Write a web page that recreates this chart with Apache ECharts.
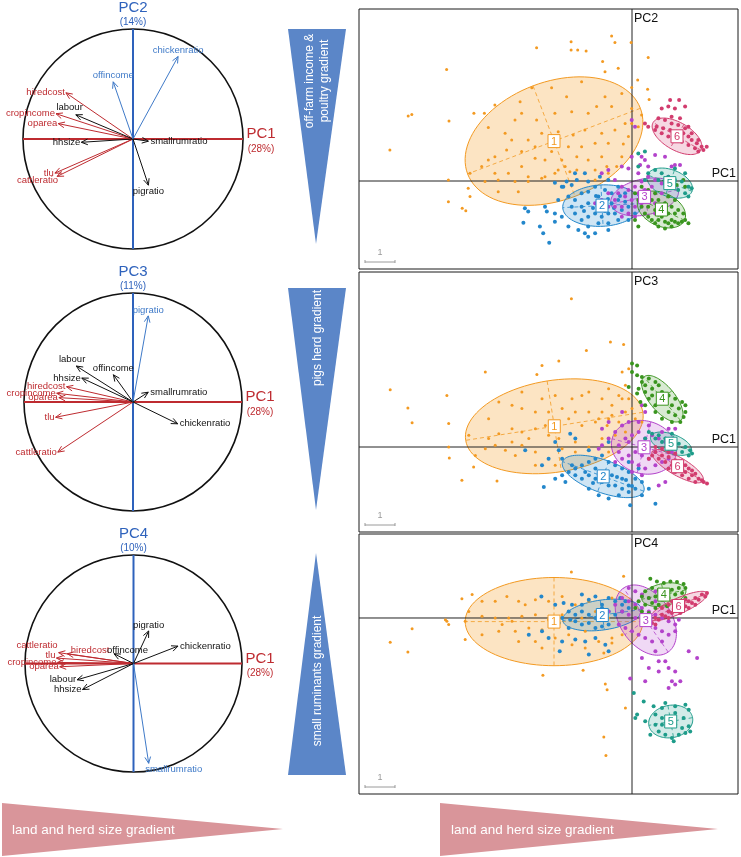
<!DOCTYPE html>
<html><head><meta charset="utf-8">
<script src="https://cdn.jsdelivr.net/npm/echarts@6/dist/echarts.min.js"></script>
<style>html,body{margin:0;padding:0;background:#fff}#c{width:741px;height:857px}</style>
</head><body><div id="c"></div>
<script>
// ---------------- DATA ----------------
const variables = ['hiredcost','cropincome','oparea','tlu','cattleratio','labour','hhsize','offincome','chickenratio','pigratio','smallrumratio'];
const loadPC1 = [-0.61,-0.70,-0.68,-0.71,-0.69,-0.52,-0.47,-0.18,0.41,0.14,0.14];
const loadPC2 = [0.42,0.23,0.14,-0.31,-0.34,0.22,-0.03,0.52,0.75,-0.42,-0.02];
const loadPC3 = [0.14,0.08,0.04,-0.14,-0.46,0.33,0.22,0.25,-0.20,0.79,0.09];
const loadPC4 = [0.09,0.01,-0.03,0.05,0.10,-0.15,-0.24,0.09,0.16,0.30,-0.92];
const pc1Name = 'PC1', pc1Variance = '(28%)';
const pcNames = ['PC2','PC3','PC4'];
const pcVariance = ['(14%)','(11%)','(10%)'];
const pc1Vars = ['hiredcost','cropincome','oparea','tlu','cattleratio'];
const pcKVars = [['offincome','chickenratio'],['pigratio'],['smallrumratio']];
const clusterLabels = ['1','2','3','4','5','6'];
const gradientTexts = ['off-farm income &\npoultry gradient','pigs herd gradient','small ruminants gradient'];
const bottomText = 'land and herd size gradient';

// scores PC1 x PC2
const pc2_cl1 = [[-0.68,4.83],[-0.57,4.62],[-2.03,4.64],[-2.03,4.37],[-1.81,4.37],[-1.53,4.33],[-3.18,4.44],[-0.03,4.62],[0.54,4.12],[-0.98,3.98],[-0.46,3.76],[-0.90,3.64],[-6.18,3.72],[0.19,3.37],[-0.01,3.12],[0.52,3.06],[0.57,2.72],[-7.46,2.17],[-7.34,2.22],[-8.07,1.03],[-6.10,2.00],[-5.27,2.26],[-4.92,2.26],[-4.57,2.53],[-3.73,2.64],[-3.34,3.11],[-2.68,3.11],[-2.18,2.81],[-1.68,3.31],[-0.90,2.81],[-0.34,2.92],[-0.01,2.42],[-0.68,2.48],[-1.18,2.48],[-1.46,2.26],[-2.01,2.31],[-2.57,2.26],[-3.18,2.03],[-3.68,2.26],[-3.90,2.03],[-4.79,1.78],[-4.23,1.59],[-4.01,1.37],[-3.46,1.37],[-3.01,1.59],[-2.46,1.64],[-1.96,1.53],[-1.57,1.70],[-1.01,1.59],[-0.57,1.70],[-0.23,1.92],[-0.12,1.48],[-0.79,1.26],[-1.23,1.26],[-1.68,1.14],[-2.12,1.14],[-2.68,0.98],[-3.23,1.14],[-3.68,0.98],[-4.18,1.03],[-4.57,0.81],[-4.79,0.70],[-5.01,0.48],[-4.57,0.26],[-4.12,0.26],[-3.68,0.48],[-3.23,0.76],[-2.90,0.70],[-2.34,0.70],[-1.84,0.81],[-1.46,0.70],[-1.01,0.81],[-0.34,0.81],[-0.51,0.48],[-0.79,0.26],[-1.23,0.37],[-1.84,0.37],[-2.23,0.48],[-2.57,0.26],[-3.01,0.09],[-3.46,-0.02],[-3.90,-0.02],[-4.46,0.03],[-4.90,-0.02],[-5.40,0.26],[-5.46,-0.24],[-5.40,-0.52],[-6.12,0.03],[-6.12,-0.69],[-5.66,-0.91],[-5.54,-0.99],[-4.46,-0.36],[-3.79,-0.36],[-3.46,0.14],[-2.90,0.14],[-2.46,0.37],[-2.07,0.31],[-1.23,0.03],[-0.84,0.48],[-0.29,1.23],[-0.01,1.92],[0.21,1.81],[0.32,2.20]];
const pc2_cl2 = [[-2.76,-2.06],[-3.07,-1.52],[-2.96,-1.74],[-3.62,-1.39],[-3.57,-0.91],[-3.46,-1.02],[-2.90,-0.86],[-2.84,-1.02],[-2.57,-0.06],[-2.34,-0.19],[-2.18,-0.02],[-1.90,0.26],[-1.84,0.03],[-1.57,0.26],[-1.46,-0.02],[-2.12,-0.52],[-1.90,-0.63],[-1.68,-0.41],[-1.46,-0.36],[-1.23,-0.19],[-1.12,-0.52],[-0.90,-0.30],[-0.68,-0.41],[-0.46,-0.19],[-0.23,-0.41],[-1.90,-1.08],[-1.68,-1.30],[-1.46,-1.19],[-1.23,-1.08],[-1.01,-1.19],[-0.79,-1.08],[-0.57,-1.08],[-0.34,-0.97],[-0.12,-0.86],[-2.12,-1.52],[-1.79,-1.63],[-1.57,-1.74],[-1.46,-1.52],[-1.12,-1.41],[-0.79,-1.41],[-0.46,-1.30],[-0.12,-1.30],[-1.23,-1.74],[-0.79,-1.63],[-2.34,-1.19],[-2.57,-1.08],[-2.46,-0.63],[-2.01,-0.86],[-1.68,-0.86],[-1.46,-0.74],[-0.68,-0.74],[-0.46,-0.63],[-0.23,-0.69],[0.10,-1.08],[-1.46,-1.86],[-2.29,-0.19],[-2.01,-0.13],[-1.07,0.14],[-0.79,0.03],[-2.57,-1.36],[-1.0,-0.8],[-0.8,-0.6],[-1.2,-0.5],[-0.6,-0.9],[-1.3,-0.9],[-0.9,-1.0],[-1.6,-1.0],[-0.4,-0.5]];
const pc2_cl3 = [[0.77,0.87],[1.10,0.81],[1.43,0.53],[1.32,0.48],[1.60,0.53],[0.27,0.53],[0.54,0.48],[-0.12,0.42],[-0.34,0.48],[-0.79,0.37],[-1.01,0.26],[-0.57,0.03],[-0.34,-0.19],[-0.12,-0.30],[0.10,-0.19],[0.32,-0.02],[0.54,0.14],[0.77,0.03],[0.99,-0.08],[1.21,0.14],[-0.79,-0.41],[-0.57,-0.63],[-0.34,-0.86],[-0.12,-1.08],[-0.34,-1.19],[0.10,-0.86],[0.32,-0.74],[0.54,-0.63],[0.77,-0.74],[0.99,-0.41],[0.21,-0.41],[0.43,-0.30],[0.66,-0.19],[-0.57,-0.86],[-0.79,-0.86],[-1.01,-0.63],[-1.23,-0.74],[-0.01,-0.63],[-0.23,-0.52],[-0.46,-0.41],[0.10,-1.19],[0.77,-1.08],[0.21,0.26],[-0.01,0.81],[0.32,0.81],[0.43,0.70],[-0.01,2.03],[0.10,1.81]];
const pc2_cl4 = [[0.21,-0.63],[0.32,-0.86],[0.43,-1.08],[0.54,-1.19],[0.66,-1.30],[0.77,-1.41],[0.88,-1.30],[0.99,-1.19],[1.10,-1.36],[1.21,-1.41],[1.32,-1.30],[1.43,-1.36],[1.54,-1.41],[1.66,-1.36],[1.77,-1.30],[1.43,-1.08],[1.21,-1.08],[0.99,-0.97],[0.77,-0.97],[0.54,-0.86],[0.43,-0.63],[0.66,-0.63],[0.88,-0.63],[1.10,-0.74],[1.32,-0.86],[1.54,-0.97],[1.71,-1.08],[0.10,-0.41],[0.32,-0.19],[0.54,-0.30],[0.77,-0.41],[1.21,-0.52],[1.43,-0.63],[0.88,-1.52],[1.10,-1.58],[1.32,-1.52],[0.10,-1.30],[0.21,-1.52],[1.49,-0.13],[1.71,0.03],[1.77,-0.19],[1.88,-1.41]];
const pc2_cl5 = [[0.21,0.92],[0.43,0.98],[0.54,0.26],[0.77,0.37],[0.99,0.26],[1.21,0.14],[1.43,0.03],[1.66,-0.02],[1.88,-0.19],[1.77,-0.41],[1.54,-0.30],[1.32,-0.19],[1.10,-0.08],[0.88,0.03],[1.77,0.26],[1.88,-0.52],[1.43,0.42],[1.99,-0.24],[0.21,0.48],[0.43,0.03]];
const pc2_cl6 = [[1.27,2.70],[1.57,2.70],[0.99,2.42],[1.21,2.48],[1.43,2.42],[1.77,2.48],[0.88,2.09],[1.10,2.03],[1.32,1.92],[1.54,1.87],[1.77,1.76],[0.82,1.81],[1.04,1.76],[1.27,1.70],[1.49,1.64],[1.71,1.59],[1.88,1.48],[1.99,1.37],[2.16,1.26],[2.32,1.14],[2.49,1.14],[2.38,1.03],[2.10,1.09],[1.88,1.20],[1.66,1.31],[1.43,1.37],[1.21,1.48],[0.99,1.59],[0.77,1.70],[1.99,1.59],[2.21,1.37],[0.54,1.81],[0.43,1.92],[1.88,1.81],[2.21,0.98],[1.32,2.14],[1.60,2.09]];

// scores PC1 x PC3
const pc3_cl1 = [[-2.02,4.94],[-0.72,3.50],[-0.28,3.42],[-1.52,3.22],[-2.44,2.87],[-3.17,2.42],[-4.89,2.50],[-8.06,1.91],[-7.47,1.30],[-7.33,0.81],[-6.17,1.72],[-6.11,0.78],[-6.11,0.00],[-6.09,-0.37],[-5.67,-1.11],[-5.28,-0.67],[-4.50,-1.13],[-5.44,0.39],[-4.78,0.28],[-4.44,0.44],[-4.00,0.61],[-3.67,0.50],[-3.22,0.61],[-2.89,0.72],[-2.56,0.83],[-2.11,0.94],[-1.67,0.72],[-1.22,0.83],[-0.78,0.94],[-0.44,0.83],[-0.22,1.17],[-0.11,1.61],[-0.33,1.61],[-0.67,1.39],[-1.00,1.17],[-1.44,1.17],[-1.89,1.17],[-2.33,1.28],[-2.78,1.17],[-3.22,1.17],[-3.67,1.28],[-4.00,1.39],[-4.44,1.50],[-4.78,0.94],[-3.67,1.83],[-3.00,1.61],[-2.56,1.72],[-2.00,1.61],[-1.67,1.72],[-1.44,1.83],[-1.00,1.61],[-0.78,1.94],[-0.44,1.72],[-0.11,2.61],[0.00,1.28],[0.11,0.94],[0.33,0.83],[-3.67,0.06],[-3.22,-0.17],[-2.78,-0.39],[-2.33,-0.06],[-1.89,-0.17],[-1.44,0.00],[-1.00,0.28],[-0.56,0.39],[-0.22,0.50],[-0.78,-0.17],[-1.22,-0.39],[-4.22,-0.11],[-3.89,-0.28],[-3.22,-0.61],[-2.56,-0.61],[-1.89,0.17],[-2.44,0.28],[-2.78,0.39],[-3.44,0.28],[-4.00,0.17],[-4.56,0.06],[-4.89,-0.06],[-5.22,-0.28],[-3.00,2.72],[-0.33,2.50],[-0.83,0.72],[-0.67,1.06],[-1.11,0.94],[-0.22,2.06]];
const pc3_cl2 = [[-2.06,0.44],[-1.89,0.28],[-2.56,0.17],[-2.44,-0.11],[-2.33,-0.39],[-2.78,-0.39],[-3.00,-0.61],[-2.94,-1.33],[-2.56,-1.06],[-2.33,-0.94],[-2.11,-0.83],[-1.89,-0.72],[-1.67,-0.61],[-1.44,-0.50],[-1.22,-0.39],[-1.00,-0.28],[-0.78,-0.50],[-0.56,-0.61],[-0.33,-0.72],[-0.11,-0.83],[0.11,-1.06],[0.33,-1.17],[0.56,-1.39],[0.78,-1.89],[-0.06,-1.94],[0.33,-1.61],[-0.11,-1.50],[-0.33,-1.39],[-0.56,-1.28],[-0.78,-1.28],[-1.00,-1.17],[-1.22,-1.06],[-1.44,-0.94],[-1.67,-1.06],[-1.89,-0.94],[-1.44,-1.39],[-1.11,-1.61],[-0.78,-1.72],[-0.44,-1.61],[-0.11,-1.28],[0.11,-1.39],[-0.33,-1.06],[-0.67,-0.94],[-0.89,-0.83],[-1.22,-0.72],[-1.56,-0.83],[-2.00,-0.61],[-2.22,-1.17],[0.22,-0.72],[-0.11,-0.50],[-3.56,-0.11],[-1.44,-0.11],[-0.78,0.17],[-0.20,-1.10],[-0.50,-1.00],[-0.90,-1.10],[-1.30,-1.20],[0.00,-1.30]];
const pc3_cl3 = [[-0.33,0.72],[-0.11,0.83],[0.22,0.83],[0.56,0.72],[0.44,1.17],[0.33,1.39],[-0.33,1.17],[-0.56,0.50],[-0.78,0.28],[-1.00,0.06],[-1.11,-0.06],[-0.44,0.06],[-0.22,0.28],[0.00,0.39],[0.22,0.50],[0.44,0.28],[0.67,0.39],[0.89,0.28],[1.11,0.17],[1.33,-0.17],[1.22,-0.39],[1.00,-0.50],[0.78,-0.61],[0.56,-0.39],[0.33,-0.28],[0.11,-0.17],[-0.11,-0.28],[-0.33,-0.39],[-0.44,-0.17],[0.00,-0.50],[0.22,-0.61],[0.44,-0.72],[0.00,-0.83],[0.33,-0.94],[0.89,-1.28],[1.11,-1.17],[1.44,-0.72],[-0.56,-0.50],[0.56,-0.06],[0.78,-0.17],[-0.11,0.17],[1.00,0.50],[1.22,0.61],[1.44,0.61],[-0.78,0.83],[-1.00,0.61]];
const pc3_cl4 = [[0.00,2.78],[0.17,2.72],[0.00,2.50],[0.17,2.39],[0.33,2.33],[0.56,2.28],[0.78,2.17],[0.89,2.06],[0.44,2.06],[0.67,1.94],[1.00,1.83],[1.22,1.72],[1.44,1.61],[1.67,1.50],[1.78,1.39],[1.56,1.28],[1.33,1.39],[1.11,1.50],[0.89,1.61],[0.67,1.72],[0.44,1.83],[0.22,1.94],[0.33,2.17],[0.56,1.61],[0.78,1.39],[1.22,1.17],[1.44,1.06],[1.72,1.00],[1.61,0.83],[1.78,1.17],[-0.11,2.00],[0.17,1.78],[0.28,1.50],[1.00,0.94],[1.33,0.83],[0.78,1.17],[0.44,1.39]];
const pc3_cl5 = [[0.67,0.44],[0.89,0.39],[1.11,0.28],[1.33,0.22],[1.56,0.11],[1.78,0.00],[1.94,-0.11],[1.89,-0.28],[1.67,-0.17],[1.44,-0.06],[1.22,0.06],[1.00,0.17],[0.78,0.28],[0.56,0.50],[2.00,-0.22],[1.33,0.44],[0.44,0.28]];
const pc3_cl6 = [[0.78,-0.17],[1.00,-0.28],[1.22,-0.33],[1.44,-0.44],[1.67,-0.56],[1.89,-0.72],[2.11,-0.89],[2.33,-1.11],[2.50,-1.22],[2.39,-1.17],[2.22,-1.06],[2.00,-0.94],[1.78,-0.83],[1.56,-0.72],[1.33,-0.61],[1.11,-0.50],[0.89,-0.39],[0.67,-0.28],[1.00,-0.06],[1.22,-0.17],[1.44,-0.22],[1.78,-0.61],[2.00,-0.78],[0.78,0.00],[1.44,-0.83],[1.67,-0.94],[1.89,-1.06],[2.11,-1.17],[1.22,-0.72],[0.56,-0.39]];

// scores PC1 x PC4
const pc4_cl1 = [[-2.02,1.53],[-0.28,1.39],[-5.67,0.64],[-5.33,0.78],[-5.00,0.56],[-4.56,0.56],[-4.17,0.72],[-3.78,0.56],[-3.56,0.44],[-3.22,0.61],[-2.78,0.56],[-2.33,0.72],[-1.89,0.44],[-1.44,0.56],[-1.00,0.44],[-0.67,0.67],[-0.33,0.44],[-5.44,0.22],[-5.00,0.06],[-4.56,0.00],[-4.11,0.00],[-3.67,0.06],[-3.22,0.11],[-2.78,-0.06],[-2.33,0.11],[-1.67,0.00],[-1.22,0.22],[-0.78,0.00],[-6.17,-0.11],[-6.11,-0.22],[-6.22,-0.06],[-7.33,-0.36],[-8.06,-0.81],[-7.47,-1.13],[-5.56,-0.72],[-5.00,-0.56],[-4.44,-0.44],[-3.89,-0.44],[-3.44,-0.33],[-3.00,-0.39],[-2.56,-0.67],[-2.11,-0.56],[-1.56,-0.44],[-1.11,-0.78],[-0.67,-0.67],[-0.33,-0.56],[-3.78,-0.78],[-3.22,-0.78],[-3.00,-1.00],[-2.00,-0.89],[-1.56,-1.00],[-0.94,-1.17],[-0.67,-0.83],[-1.63,-1.74],[-2.97,-1.91],[-0.89,-2.20],[-0.83,-2.39],[-0.22,-3.00],[-0.94,-3.97],[-0.87,-4.58],[-4.33,-0.22],[-4.00,-0.11],[-5.56,-0.11]];
const pc4_cl2 = [[-3.02,0.72],[-2.56,0.44],[-2.44,-0.17],[-2.41,-1.11],[-2.28,0.50],[-2.00,0.44],[-1.67,0.78],[-1.44,0.61],[-1.22,0.72],[-1.00,0.44],[-0.78,0.67],[-0.56,0.56],[-0.33,0.44],[-0.11,0.33],[-2.11,0.22],[-1.89,0.11],[-1.67,0.22],[-1.44,0.11],[-1.22,0.00],[-1.00,0.33],[-0.78,0.22],[-0.56,0.11],[-0.33,0.22],[-1.89,-0.11],[-1.67,-0.22],[-1.44,-0.17],[-1.22,-0.33],[-1.00,-0.28],[-0.78,-0.22],[-2.11,-0.33],[-2.33,0.00],[-3.44,-0.56],[-3.00,-0.44],[-2.78,-0.67],[-2.33,-0.78],[-1.89,-0.72],[-1.56,-0.78],[-1.22,-0.67],[-0.89,-0.89],[-0.78,-1.11],[-1.44,-1.22],[-1.67,0.44],[-0.39,0.67],[-0.22,0.56],[-2.06,-0.06],[-2.67,-0.22]];
const pc4_cl3 = [[-0.11,1.00],[0.11,0.89],[0.33,0.78],[0.56,0.67],[0.78,0.56],[-0.33,0.67],[-0.11,0.56],[0.11,0.44],[0.33,0.33],[0.56,0.22],[0.78,0.11],[1.00,0.00],[1.22,-0.11],[1.44,-0.22],[-0.33,0.22],[-0.11,0.11],[0.11,0.00],[0.33,-0.11],[0.56,-0.22],[0.78,-0.33],[1.00,-0.44],[1.22,-0.56],[1.44,-0.44],[1.56,-0.06],[-0.44,-0.22],[-0.22,-0.33],[0.00,-0.44],[0.22,-0.56],[0.44,-0.67],[0.67,-0.78],[1.00,-0.78],[0.78,-1.11],[0.89,-1.44],[1.11,-1.44],[1.22,-1.67],[1.44,-1.78],[1.33,-2.11],[1.22,-2.33],[1.44,-2.22],[1.61,-2.11],[1.89,-1.11],[2.17,-1.33],[0.33,-1.33],[-0.06,-2.02],[0.56,-1.67],[0.44,-2.11],[0.89,-1.78],[-0.78,0.22],[-0.56,0.44],[0.78,0.89],[1.22,0.22]];
const pc4_cl4 = [[0.61,1.31],[0.83,1.22],[1.06,1.17],[1.28,1.22],[1.50,1.20],[1.72,1.13],[1.78,1.00],[1.56,1.00],[1.33,0.94],[1.11,0.89],[0.89,0.94],[0.67,1.00],[0.44,0.89],[0.33,0.72],[0.56,0.67],[0.78,0.72],[1.00,0.61],[1.22,0.67],[1.44,0.78],[1.67,0.83],[0.22,0.56],[0.44,0.44],[0.67,0.50],[0.89,0.44],[1.17,0.39],[1.44,0.33],[1.22,0.89],[0.78,0.33],[0.56,0.17],[0.11,0.33],[0.33,0.22],[1.78,0.67]];
const pc4_cl5 = [[0.06,-2.50],[0.39,-2.78],[0.11,-3.33],[0.17,-3.22],[0.72,-2.94],[1.11,-2.83],[1.44,-2.94],[1.78,-2.89],[1.89,-3.06],[0.78,-3.22],[1.00,-3.33],[1.22,-3.44],[1.44,-3.56],[1.67,-3.67],[1.89,-3.61],[1.94,-3.78],[0.61,-3.89],[0.89,-3.78],[1.11,-3.89],[1.33,-4.00],[1.56,-3.89],[1.78,-3.83],[1.39,-4.11],[0.78,-3.56],[1.00,-3.56],[1.44,-3.17],[1.72,-3.33],[0.44,-3.44],[1.00,-3.00]];
const pc4_cl6 = [[0.56,-0.11],[0.78,0.00],[1.00,0.11],[1.22,0.22],[1.44,0.33],[1.67,0.44],[1.89,0.56],[2.11,0.67],[2.33,0.78],[2.50,0.83],[2.44,0.72],[2.22,0.61],[2.00,0.50],[1.78,0.39],[1.56,0.28],[1.33,0.17],[1.11,0.06],[0.89,-0.06],[0.67,-0.17],[1.00,0.33],[1.22,0.44],[1.44,0.50],[1.78,0.61],[0.78,-0.22],[0.44,-0.22],[1.22,0.00],[1.61,0.17],[1.89,0.33],[2.11,0.44],[1.33,0.56]];

// class ellipses: [centerX, centerY, semiMajor, semiMinor, angleDeg]
const ellipsesPC2 = [[-2.60,1.33,3.08,1.97,20.8],[-1.00,-0.82,1.31,0.69,3],[0.42,-0.53,1.15,0.60,12],[0.98,-0.95,0.85,0.55,-25],[1.26,-0.07,0.79,0.45,-20],[1.50,1.49,0.92,0.46,-30]];
const ellipsesPC3 = [[-2.59,0.69,2.99,1.53,9],[-0.96,-0.98,1.44,0.54,-20],[0.40,-0.01,1.10,0.88,-15],[1.01,1.61,0.95,0.42,-50],[1.30,0.11,0.72,0.32,-20],[1.52,-0.64,0.98,0.30,-30]];
const ellipsesPC4 = [[-2.60,-0.12,2.96,1.47,0],[-0.99,0.10,1.33,0.50,8],[0.46,-0.07,1.30,0.85,-55],[1.06,0.78,0.75,0.37,12],[1.29,-3.45,0.74,0.54,10],[1.55,0.40,1.05,0.26,24]];

// ---------------- STYLE ----------------
const FONT = '"Liberation Sans", Arial, Helvetica, sans-serif';
const RED = '#BE2B30', BLUE = '#2E62BC', BLUE_ARROW = '#3F7AC8';
const clusterColors = ['#F39A22','#2387CB','#B343CB','#3A951F','#1E9C8A','#D23C6E'];
const fillAlpha = [0.27,0.22,0.2,0.2,0.2,0.2];
// per-circle label nudges (px) for crowded labels
const labelNudge = [
  {labour:[8,-7], cattleratio:[2,4]},
  {labour:[10,-7]},
  {offincome:[35,-3], hiredcost:[43,-3], cattleratio:[0,-7], tlu:[0,-3], smallrumratio:[25,0]}
];
function rgba(hex, a){const n=parseInt(hex.slice(1),16);return 'rgba('+(n>>16)+','+((n>>8)&255)+','+(n&255)+','+a+')';}

const circleGrids = [{left:23,top:29,width:220,height:220},{left:24,top:293,width:218,height:218},{left:25,top:555,width:217,height:217}];
const panelGrids = [{left:359,top:9,width:379,height:260},{left:359,top:272,width:379,height:260},{left:359,top:534,width:379,height:260}];
const panelX = [-9.1, 3.533];
const panelY = [[-2.933,5.733],[-2.833,5.833],[-5.867,2.8]];
const loadK = [loadPC2, loadPC3, loadPC4];
const scoresK = [[pc2_cl1,pc2_cl2,pc2_cl3,pc2_cl4,pc2_cl5,pc2_cl6],[pc3_cl1,pc3_cl2,pc3_cl3,pc3_cl4,pc3_cl5,pc3_cl6],[pc4_cl1,pc4_cl2,pc4_cl3,pc4_cl4,pc4_cl5,pc4_cl6]];
const ellipsesK = [ellipsesPC2, ellipsesPC3, ellipsesPC4];

function txt(x,y,text,fill,size,align,valign,extra){
  return Object.assign({type:'text',x:x,y:y,style:{text:text,fill:fill,font:size+'px '+FONT,align:align,verticalAlign:valign,textAlign:align,textVerticalAlign:valign}},extra||{});
}

const grid=[], xAxis=[], yAxis=[], series=[];
for(let k=0;k<3;k++){
  grid.push(Object.assign({},circleGrids[k]));
  xAxis.push({type:'value',gridIndex:k,min:-1,max:1,show:false});
  yAxis.push({type:'value',gridIndex:k,min:-1,max:1,show:false});
  series.push({type:'custom',xAxisIndex:k,yAxisIndex:k,silent:true,z:1,data:[[0,0]],
    renderItem:function(params,api){
      const o=api.coord([0,0]); const r=api.size([1,1])[0];
      return {type:'group',children:[
        {type:'circle',shape:{cx:o[0],cy:o[1],r:r},style:{fill:null,stroke:'#111',lineWidth:1.6}},
        {type:'line',shape:{x1:o[0]-r,y1:o[1],x2:o[0]+r,y2:o[1]},style:{stroke:RED,lineWidth:2}},
        {type:'line',shape:{x1:o[0],y1:o[1]-r,x2:o[0],y2:o[1]+r},style:{stroke:BLUE,lineWidth:2}},
        txt(o[0],o[1]-r-21,pcNames[k],BLUE,15,'center','middle'),
        txt(o[0],o[1]-r-7,pcVariance[k],BLUE,10,'center','middle'),
        txt(o[0]+r+18,o[1]-5,pc1Name,RED,15,'center','middle'),
        txt(o[0]+r+18,o[1]+10,pc1Variance,RED,10,'center','middle')
      ]};
    }});
  series.push({type:'custom',xAxisIndex:k,yAxisIndex:k,silent:true,z:2,
    data:variables.map((v,i)=>[loadPC1[i],loadK[k][i],i]),
    renderItem:function(params,api){
      const x=api.value(0), y=api.value(1), name=variables[api.value(2)];
      const col = pc1Vars.indexOf(name)>=0 ? RED : (pcKVars[k].indexOf(name)>=0 ? BLUE_ARROW : '#111');
      const o=api.coord([0,0]), t=api.coord([x,y]);
      const ang=Math.atan2(t[1]-o[1],t[0]-o[0]); const hl=7, ha=0.42;
      const p1=[t[0]-hl*Math.cos(ang-ha),t[1]-hl*Math.sin(ang-ha)];
      const p2=[t[0]-hl*Math.cos(ang+ha),t[1]-hl*Math.sin(ang+ha)];
      let lx,ly,al,va;
      if(Math.abs(x)>=Math.abs(y)){al=x<0?'right':'left';va='middle';lx=t[0]+(x<0?-1:2);ly=t[1];}
      else{al='center';va=y>0?'bottom':'top';lx=t[0];ly=t[1]+(y>0?-1:1);}
      const nd = labelNudge[k][name]; if(nd){lx+=nd[0]; ly+=nd[1];}
      return {type:'group',children:[
        {type:'line',shape:{x1:o[0],y1:o[1],x2:t[0],y2:t[1]},style:{stroke:col,lineWidth:1}},
        {type:'polyline',shape:{points:[p1,t,p2]},style:{stroke:col,fill:null,lineWidth:1}},
        txt(lx,ly,name,col,9.5,al,va)
      ]};
    }});
}
for(let k=0;k<3;k++){
  const gi=3+k;
  grid.push(Object.assign({show:true,borderColor:'#1a1a1a',borderWidth:1,backgroundColor:'transparent'},panelGrids[k]));
  xAxis.push({type:'value',gridIndex:gi,min:panelX[0],max:panelX[1],show:false});
  yAxis.push({type:'value',gridIndex:gi,min:panelY[k][0],max:panelY[k][1],show:false});
  series.push({type:'custom',xAxisIndex:gi,yAxisIndex:gi,silent:true,z:1,clip:true,
    data:ellipsesK[k].map((e,i)=>e.concat([i])),
    renderItem:function(params,api){
      const cx=api.value(0),cy=api.value(1),a=api.value(2),b=api.value(3),th=api.value(4)*Math.PI/180,ci=api.value(5);
      const col=clusterColors[ci]; const pts=[];
      for(let i=0;i<96;i++){const t=i/96*2*Math.PI;
        pts.push(api.coord([cx+a*Math.cos(t)*Math.cos(th)-b*Math.sin(t)*Math.sin(th), cy+a*Math.cos(t)*Math.sin(th)+b*Math.sin(t)*Math.cos(th)]));}
      const A1=api.coord([cx+a*Math.cos(th),cy+a*Math.sin(th)]),A2=api.coord([cx-a*Math.cos(th),cy-a*Math.sin(th)]);
      const B1=api.coord([cx-b*Math.sin(th),cy+b*Math.cos(th)]),B2=api.coord([cx+b*Math.sin(th),cy-b*Math.cos(th)]);
      return {type:'group',children:[
        {type:'polygon',shape:{points:pts},style:{fill:rgba(col,fillAlpha[ci]),stroke:col,lineWidth:1}},
        {type:'line',shape:{x1:A1[0],y1:A1[1],x2:A2[0],y2:A2[1]},style:{stroke:col,lineWidth:0.8,lineDash:[4,3]}},
        {type:'line',shape:{x1:B1[0],y1:B1[1],x2:B2[0],y2:B2[1]},style:{stroke:col,lineWidth:0.8,lineDash:[4,3]}}
      ]};
    }});
  series.push({type:'custom',xAxisIndex:gi,yAxisIndex:gi,silent:true,z:2,data:[[0,0]],
    renderItem:function(params,api){
      const cs=params.coordSys; const o=api.coord([0,0]); const u=api.size([1,1])[0];
      const bx=cs.x+6, by=cs.y+cs.height-7;
      return {type:'group',children:[
        {type:'line',shape:{x1:cs.x,y1:o[1],x2:cs.x+cs.width,y2:o[1]},style:{stroke:'#222',lineWidth:1}},
        {type:'line',shape:{x1:o[0],y1:cs.y,x2:o[0],y2:cs.y+cs.height},style:{stroke:'#222',lineWidth:1}},
        txt(o[0]+2,cs.y+3,pcNames[k],'#111',12.5,'left','top'),
        txt(cs.x+cs.width-2,o[1]-1,pc1Name,'#111',12.5,'right','bottom'),
        {type:'line',shape:{x1:bx,y1:by,x2:bx+u,y2:by},style:{stroke:'#9a9a9a',lineWidth:1}},
        {type:'line',shape:{x1:bx,y1:by-2,x2:bx,y2:by+1},style:{stroke:'#9a9a9a',lineWidth:1}},
        {type:'line',shape:{x1:bx+u,y1:by-2,x2:bx+u,y2:by+1},style:{stroke:'#9a9a9a',lineWidth:1}},
        txt(bx+u/2,by-5,'1','#9a9a9a',9,'center','bottom')
      ]};
    }});
  scoresK[k].forEach((d,ci)=>{
    series.push({type:'scatter',xAxisIndex:gi,yAxisIndex:gi,silent:true,z:3,data:d,
      symbolSize:ci===0?3:4,itemStyle:{color:clusterColors[ci],opacity:1}});
  });
  series.push({type:'custom',xAxisIndex:gi,yAxisIndex:gi,silent:true,z:4,
    data:ellipsesK[k].map((e,i)=>[e[0],e[1],i]),
    renderItem:function(params,api){
      const c=api.coord([api.value(0),api.value(1)]); const ci=api.value(2); const col=clusterColors[ci];
      return {type:'group',children:[
        {type:'rect',shape:{x:c[0]-6,y:c[1]-6.5,width:12,height:13},style:{fill:'#fff',stroke:col,lineWidth:1}},
        txt(c[0],c[1]+0.5,clusterLabels[ci],col,11,'center','middle')
      ]};
    }});
}

const graphics = [
  {type:'polygon',shape:{points:[[288,29],[346,29],[316,244]]},style:{fill:'#5B86C8'}},
  txt(317,81,gradientTexts[0],'#fff',12,'center','middle',{rotation:Math.PI/2}),
  {type:'polygon',shape:{points:[[288,288],[346,288],[316,510]]},style:{fill:'#5B86C8'}},
  txt(318,338,gradientTexts[1],'#fff',12,'center','middle',{rotation:Math.PI/2}),
  {type:'polygon',shape:{points:[[316,553],[346,775],[288,775]]},style:{fill:'#5B86C8'}},
  txt(318,681,gradientTexts[2],'#fff',12,'center','middle',{rotation:Math.PI/2}),
  {type:'polygon',shape:{points:[[2,803],[283,829],[2,856]]},style:{fill:'#D9959A'}},
  txt(12,830,bottomText,'#fff',13.5,'left','middle'),
  {type:'polygon',shape:{points:[[440,803],[718,829],[440,856]]},style:{fill:'#D9959A'}},
  txt(451,830,bottomText,'#fff',13.5,'left','middle')
];
graphics.forEach(g=>{ if(g.type==='text'){ g.style.lineHeight=15; } });

const chart = echarts.init(document.getElementById('c'),null,{renderer:'canvas'});
chart.setOption({
  animation:false,
  backgroundColor:'#fff',
  textStyle:{fontFamily:FONT},
  grid:grid, xAxis:xAxis, yAxis:yAxis, series:series,
  graphic:{elements:graphics}
});
</script>
</body></html>
